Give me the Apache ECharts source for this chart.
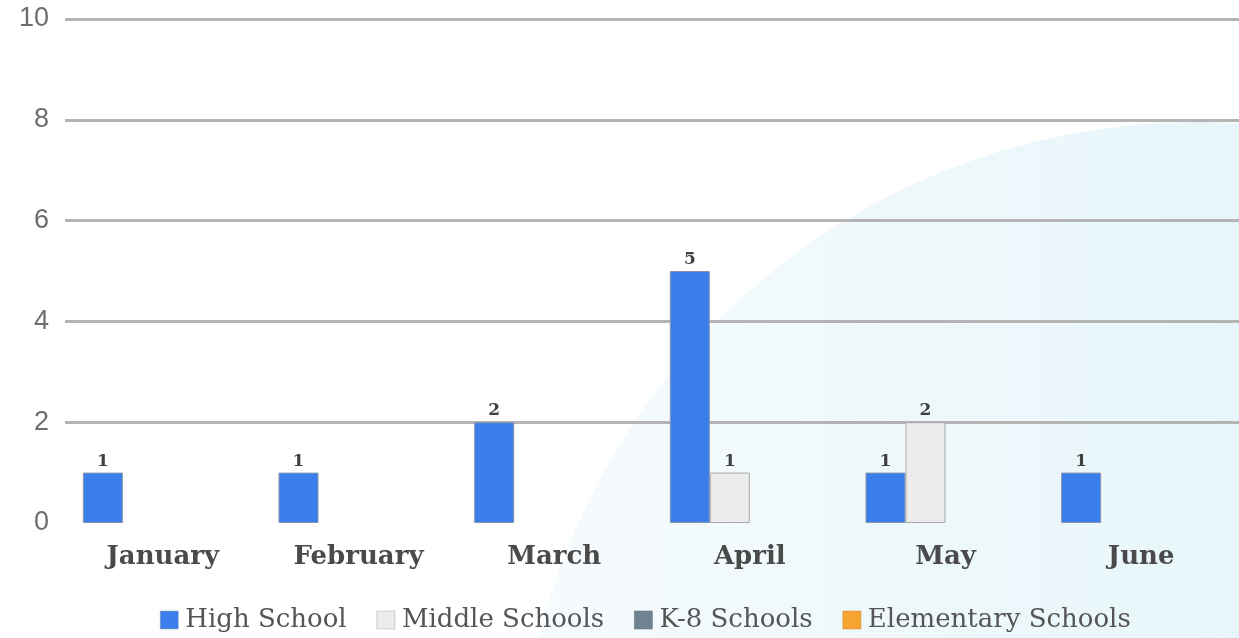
<!DOCTYPE html>
<html>
<head>
<meta charset="utf-8">
<script src="https://cdn.jsdelivr.net/npm/echarts@6/dist/echarts.min.js"></script>
<style>
html,body{margin:0;padding:0;background:#fff;}
#chart{width:1239px;height:638px;}
</style>
</head>
<body>
<div id="chart"></div>
<script>
var categories = ['January', 'February', 'March', 'April', 'May', 'June'];
var seriesNames = ['High School', 'Middle Schools', 'K-8 Schools', 'Elementary Schools'];
var highSchool = [1, 1, 2, 5, 1, 1];
var middleSchools = [0, 0, 0, 1, 2, 0];
var k8Schools = [0, 0, 0, 0, 0, 0];
var elementarySchools = [0, 0, 0, 0, 0, 0];
var yTicks = [0, 2, 4, 6, 8, 10];

var colors = ['#3a7eec', '#ececec', '#6f8393', '#f7a530'];
var borders = ['#8794a8', '#a8a8a8', '#5a6a78', '#c98420'];
var values = [highSchool, middleSchools, k8Schools, elementarySchools];

var chart = echarts.init(document.getElementById('chart'));

var series = seriesNames.map(function (name, i) {
  return {
    name: name,
    type: 'bar',
    data: values[i].map(function (v) { return v === 0 ? null : v; }),
    barGap: '0%',
    barWidth: 40,
    itemStyle: { color: colors[i], borderColor: borders[i], borderWidth: 1 },
    label: {
      show: true,
      position: 'top',
      distance: 3,
      fontFamily: 'DejaVu Serif',
      fontWeight: 'bold',
      fontSize: 17,
      color: '#404040'
    },
    z: 3
  };
});

chart.setOption({
  animation: false,
  color: colors,
  graphic: [{
    type: 'circle',
    z: -10,
    silent: true,
    shape: { cx: 1197, cy: 800, r: 678 },
    style: {
      fill: new echarts.graphic.LinearGradient(0, 0, 1, 0, [
        { offset: 0, color: '#f6fbfd' },
        { offset: 0.5, color: '#e8f6fa' },
        { offset: 1, color: '#daf0f7' }
      ])
    }
  }],
  grid: { left: 65, right: -2, top: 19, bottom: 115, containLabel: false },
  legend: {
    bottom: 0,
    left: 155,
    itemWidth: 18,
    itemHeight: 18,
    itemGap: 30,
    icon: 'rect',
    textStyle: {
      fontFamily: 'DejaVu Serif',
      fontSize: 26,
      color: '#555555',
      padding: [0, 0, 0, 2]
    },
    data: seriesNames.map(function (n, i) {
      return { name: n, itemStyle: { color: colors[i], borderColor: borders[i], borderWidth: 0.5 } };
    })
  },
  xAxis: {
    type: 'category',
    data: categories,
    axisLine: { show: false },
    axisTick: { show: false },
    axisLabel: {
      margin: 21,
      fontFamily: 'DejaVu Serif',
      fontWeight: 'bold',
      fontSize: 26,
      color: '#4a4a4a'
    }
  },
  yAxis: {
    type: 'value',
    min: yTicks[0],
    max: yTicks[yTicks.length - 1],
    interval: 2,
    axisLine: { show: false },
    axisTick: { show: false },
    axisLabel: {
      margin: 16,
      fontFamily: 'Liberation Sans, Arial, sans-serif',
      fontSize: 27,
      color: '#6e6e6e'
    },
    splitLine: {
      lineStyle: {
        color: ['rgba(0,0,0,0)', '#b4b4b4', '#b4b4b4', '#b4b4b4', '#b4b4b4', '#b4b4b4'],
        width: 3
      }
    }
  },
  series: series
});
</script>
</body>
</html>
